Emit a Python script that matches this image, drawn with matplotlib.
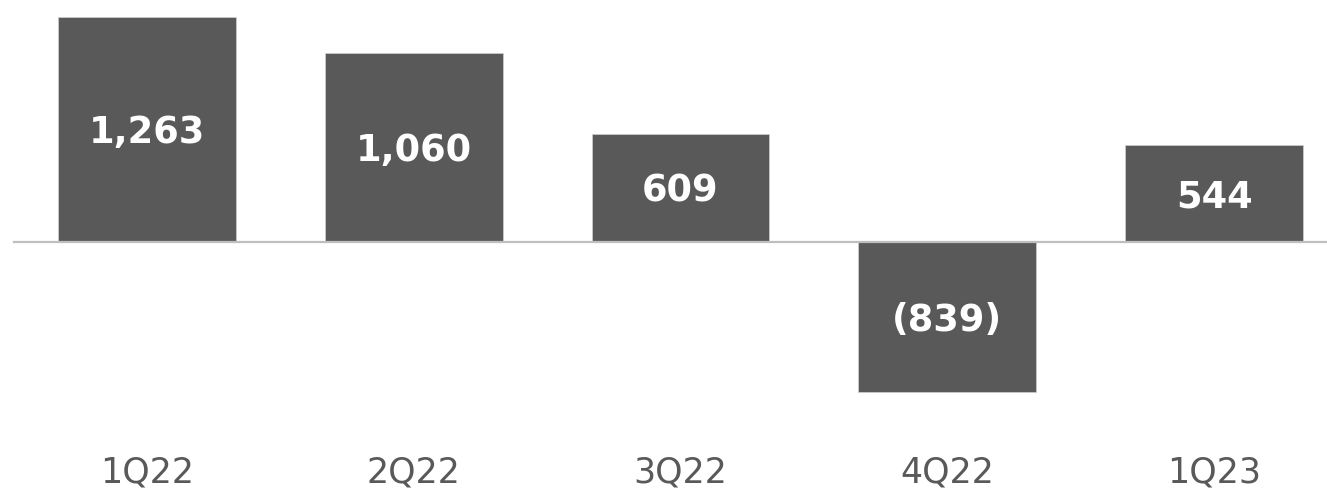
import matplotlib

matplotlib.use("Agg")
import matplotlib.pyplot as plt
import matplotlib.transforms as mtransforms

quarters = ["1Q22", "2Q22", "3Q22", "4Q22", "1Q23"]
values = [1263, 1060, 609, -839, 544]

BAR = "#595959"
AXIS = "#bfbfbf"


def fmt(v):
    return f"({abs(v):,})" if v < 0 else f"{v:,}"


fig = plt.figure(figsize=(13.27, 4.94), dpi=100)
ax = fig.add_axes([0, 0, 1, 1])
ax.set_xlim(-0.551, 4.4236)
ax.set_ylim(-1408.6, 1358)
ax.axis("off")

x = range(len(quarters))
ax.bar(x, values, width=0.667, color=BAR, edgecolor="#d0d0d0", linewidth=0.5, zorder=2)
ax.axhline(0, xmin=14 / 1327, xmax=1, color=AXIS, linewidth=1.6, zorder=3)

# labels sit a touch below the middle of each bar
nudge = mtransforms.offset_copy(ax.transData, fig=fig, x=0, y=-3, units="dots")
for i, v in zip(x, values):
    ax.text(i, v / 2, fmt(v), transform=nudge, ha="center", va="center",
            color="white", fontsize=26.5, fontweight="bold", family="DejaVu Sans",
            zorder=4)

trans = mtransforms.blended_transform_factory(ax.transData, ax.transAxes)
for i, q in zip(x, quarters):
    ax.text(i, 1 - 472 / 494, q, transform=trans, ha="center", va="center",
            color=BAR, fontsize=25, family="DejaVu Sans")

fig.savefig("out.png", dpi=100, facecolor="white")
